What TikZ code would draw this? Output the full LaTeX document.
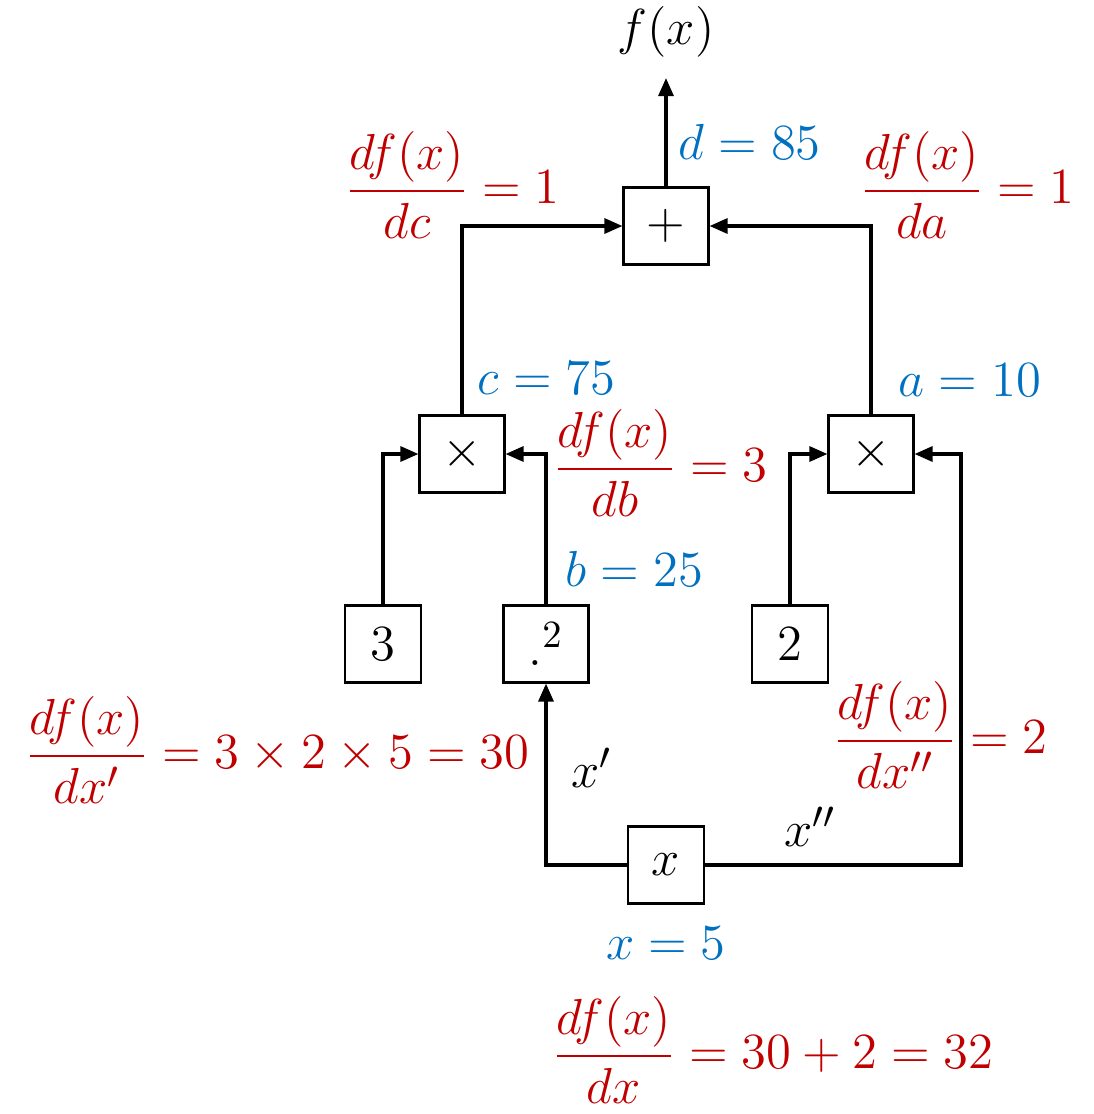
\documentclass[tikz,border=0pt]{standalone}
\usepackage{amsmath}
\usepackage{xcolor}
\usepackage{tikz}
\usetikzlibrary{arrows.meta,positioning}
\definecolor{gradred}{RGB}{192,0,0}
\definecolor{valblue}{RGB}{0,112,192}

\begin{document}
\begin{tikzpicture}[x=0.01cm,y=-0.01cm,
    font=\fontsize{15}{18}\selectfont,
    opbox/.style={rectangle,draw=black,line width=0.6pt,fill=white,minimum width=0.85cm,minimum height=0.77cm,inner sep=0pt},
    constbox/.style={rectangle,draw=black,line width=0.6pt,fill=white,minimum width=0.76cm,minimum height=0.77cm,inner sep=0pt},
    val/.style={text=valblue,inner sep=0pt},
    grad/.style={text=gradred,inner sep=0pt,anchor=west},
    arrow/.style={-{Triangle[length=1.8mm,width=1.5mm]},line width=0.9pt,draw=black}
  ]
    \useasboundingbox (0,0) rectangle (1094,1114);
    % operation nodes
    \node[opbox] (plus) at (666,226) {$+$};
    \node[opbox] (mulL) at (462,454) {$\times$};
    \node[opbox] (mulR) at (871,454) {$\times$};
    \node[constbox] (three) at (383,644) {$3$};
    \node[opbox] (sq) at (546,644) {$.^{2}$};
    \node[constbox] (two) at (790,644) {$2$};
    \node[constbox] (xin) at (666,865) {$x$};
    \node[inner sep=0pt] (out) at (666,32) {$f(x)$};
    \coordinate (turn) at (961,865);
    % forward values
    \node[val,anchor=west] (dval) at (678,142) {$d=85$};
    \node[val,anchor=west] (cval) at (477,378) {$c=75$};
    \node[val,anchor=west] (aval) at (898,380) {$a=10$};
    \node[val,anchor=west] (bval) at (565,569) {$b=25$};
    \node[val] (xval) at (666,943) {$x=5$};
    \node[inner sep=0pt] (xone) at (592,768) {$x'$};
    \node[inner sep=0pt] (xtwo) at (810,827) {$x''$};
    % gradients
    \node[grad] (gc) at (345,185) {$\dfrac{df(x)}{dc}=1$};
    \node[grad] (ga) at (860,185) {$\dfrac{df(x)}{da}=1$};
    \node[grad] (gb) at (553,463) {$\dfrac{df(x)}{db}=3$};
    \node[grad] (gxone) at (25,750) {$\dfrac{df(x)}{dx'}=3\times2\times5=30$};
    \node[grad] (gxtwo) at (833,735) {$\dfrac{df(x)}{dx''}=2$};
    \node[grad] (gx) at (552,1050) {$\dfrac{df(x)}{dx}=30+2=32$};
    % connectors
    \draw[arrow] (plus.north) -- ([yshift=-0.2cm]out.south);
    \draw[arrow] (mulL.north) |- (plus.west);
    \draw[arrow] (mulR.north) |- (plus.east);
    \draw[arrow] (three.north) |- (mulL.west);
    \draw[arrow] (sq.north) |- (mulL.east);
    \draw[arrow] (two.north) |- (mulR.west);
    \draw[arrow] (xin.west) -| (sq.south);
    \draw[arrow] (xin.east) -- (turn) |- (mulR.east);
\end{tikzpicture}
\end{document}
